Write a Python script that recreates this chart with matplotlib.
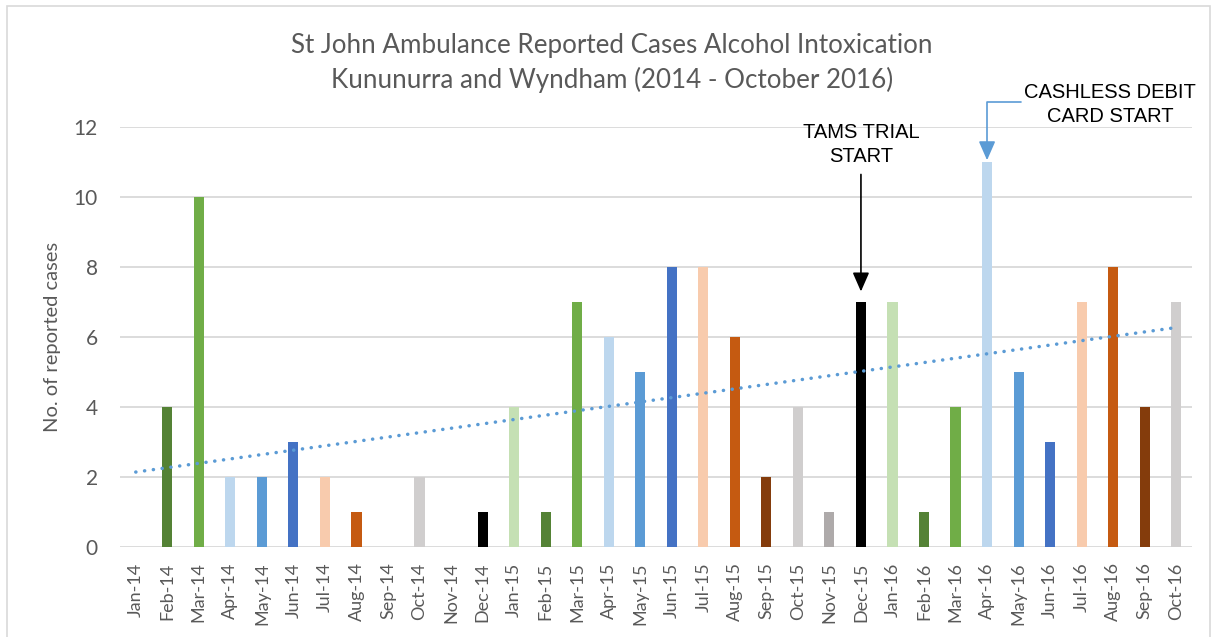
import matplotlib
matplotlib.use("Agg")
import matplotlib.pyplot as plt
from matplotlib.patches import Rectangle
import numpy as np

months = ["Jan-14", "Feb-14", "Mar-14", "Apr-14", "May-14", "Jun-14", "Jul-14", "Aug-14",
          "Sep-14", "Oct-14", "Nov-14", "Dec-14",
          "Jan-15", "Feb-15", "Mar-15", "Apr-15", "May-15", "Jun-15", "Jul-15", "Aug-15",
          "Sep-15", "Oct-15", "Nov-15", "Dec-15",
          "Jan-16", "Feb-16", "Mar-16", "Apr-16", "May-16", "Jun-16", "Jul-16", "Aug-16",
          "Sep-16", "Oct-16"]
cases = [0, 4, 10, 2, 2, 3, 2, 1, 0, 2, 0, 1,
         4, 1, 7, 6, 5, 8, 8, 6, 2, 4, 1, 7,
         7, 1, 4, 11, 5, 3, 7, 8, 4, 7]
month_colors = ["#C5E0B4", "#548235", "#70AD47", "#BDD7EE", "#5B9BD5", "#4472C4",
                "#F8CBAD", "#C55A11", "#843C0C", "#D0CECE", "#AEAAAA", "#000000"]
yticks = [0, 2, 4, 6, 8, 10, 12]

title = "St John Ambulance Reported Cases Alcohol Intoxication\nKununurra and Wyndham (2014 - October 2016)"
ylabel = "No. of reported cases"
tams_label = "TAMS TRIAL\nSTART"
tams_idx = months.index("Dec-15")
cdc_label = "CASHLESS DEBIT\nCARD START"
cdc_idx = months.index("Apr-16")

FONT = "Lato"
W, H = 1217, 637
fig = plt.figure(figsize=(W / 100, H / 100), dpi=100)
fig.patches.append(Rectangle((7 / W, -0.05), (1210 - 7) / W, 1 - 6 / H + 0.05,
                             transform=fig.transFigure, fill=False,
                             edgecolor="#D9D9D9", linewidth=1.2, zorder=0))

ax = fig.add_axes([120 / W, 90 / H, (1192 - 120) / W, (547 - 127) / H])
x = np.arange(len(months))
colors = [month_colors[i % 12] for i in range(len(months))]
ax.bar(x, cases, width=0.32, color=colors, zorder=3)

# linear trendline
coef = np.polyfit(x, cases, 1)
ax.plot(x, np.polyval(coef, x), linestyle=(0, (0.05, 2.5)), color="#5B9BD5",
        linewidth=2.5, zorder=4, dash_capstyle="round")

ax.set_xlim(-0.5, len(months) - 0.5)
ax.set_ylim(0, 12)
ax.set_yticks(yticks)
ax.yaxis.grid(True, color="#D9D9D9", linewidth=1.3, zorder=0)
ax.set_axisbelow(True)
for s in ax.spines.values():
    s.set_visible(False)
ax.tick_params(axis="both", length=0, colors="#595959")
ax.set_xticks(x)
ax.set_xticklabels(months, rotation=90, fontsize=13, family=FONT, color="#595959")
for lab in ax.get_yticklabels():
    lab.set_fontsize(15)
    lab.set_family(FONT)
ax.tick_params(axis="y", pad=16)
ax.tick_params(axis="x", pad=11)
ax.set_ylabel(ylabel, fontsize=14.5, family=FONT, color="#595959", labelpad=9)

fig.text(612 / W, 1 - 63 / H, title, ha="center", va="center", fontsize=18.7,
         family=FONT, color="#595959", linespacing=1.4)

ax.annotate(tams_label, xy=(tams_idx, cases[tams_idx] + 0.3),
            xytext=(tams_idx, 11.5), ha="center", va="center", multialignment="center",
            fontsize=14.5, family="Liberation Sans", color="black", linespacing=1.35,
            arrowprops=dict(arrowstyle="-|>,head_width=0.35,head_length=0.8",
                            color="black", lw=1.2, shrinkB=0, shrinkA=4),
            annotation_clip=False)

ax.annotate(cdc_label, xy=(cdc_idx, cases[cdc_idx] + 0.05),
            xytext=(30.9, 12.65), ha="center", va="center", multialignment="center",
            fontsize=14.5, family="Liberation Sans", color="black", linespacing=1.35,
            arrowprops=dict(arrowstyle="-|>,head_width=0.35,head_length=0.8",
                            color="#5B9BD5", lw=1.2, shrinkB=0, shrinkA=0,
                            connectionstyle="angle,angleA=180,angleB=90,rad=0",
                            relpos=(0.0, 0.55)),
            annotation_clip=False)

fig.savefig("out.png", dpi=100)
